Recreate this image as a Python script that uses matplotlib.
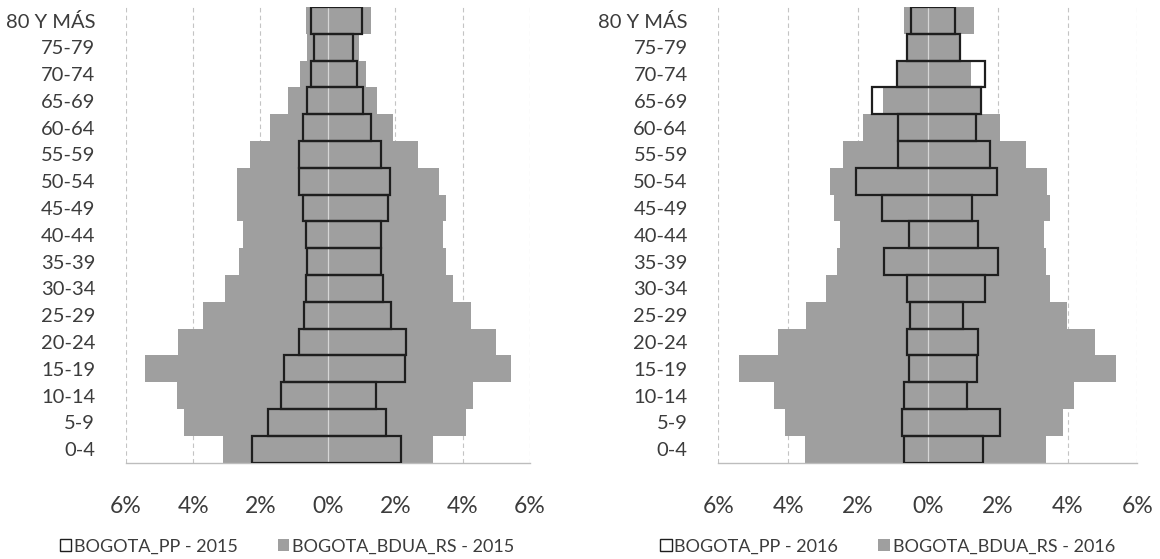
import matplotlib
matplotlib.use('Agg')
import matplotlib.pyplot as plt
from matplotlib.patches import Patch
import numpy as np

plt.rcParams['font.family'] = ['Lato', 'DejaVu Sans']

# ─── Data (percent of population) ───
ages = ['0-4', '5-9', '10-14', '15-19', '20-24', '25-29', '30-34', '35-39',
        '40-44', '45-49', '50-54', '55-59', '60-64', '65-69', '70-74',
        '75-79', '80 Y MÁS']

# 2015
bdua_2015_left = [3.12, 4.26, 4.48, 5.43, 4.46, 3.71, 3.05, 2.65, 2.52,
                  2.71, 2.71, 2.31, 1.73, 1.17, 0.83, 0.61, 0.64]
bdua_2015_right = [3.11, 4.11, 4.31, 5.44, 5.00, 4.24, 3.71, 3.52, 3.41,
                   3.52, 3.31, 2.67, 1.93, 1.45, 1.13, 0.92, 1.29]
pp_2015_left = [2.24, 1.78, 1.38, 1.29, 0.86, 0.70, 0.64, 0.61, 0.64,
                0.74, 0.87, 0.87, 0.75, 0.61, 0.51, 0.42, 0.49]
pp_2015_right = [2.18, 1.72, 1.44, 2.28, 2.33, 1.86, 1.65, 1.59, 1.59,
                 1.78, 1.84, 1.59, 1.29, 1.04, 0.85, 0.74, 1.00]

# 2016
bdua_2016_left = [3.52, 4.08, 4.40, 5.41, 4.28, 3.49, 2.91, 2.61, 2.51,
                  2.69, 2.80, 2.42, 1.87, 1.29, 0.89, 0.59, 0.68]
bdua_2016_right = [3.39, 3.87, 4.17, 5.38, 4.79, 3.98, 3.49, 3.39, 3.31,
                   3.49, 3.42, 2.80, 2.06, 1.51, 1.22, 0.93, 1.33]
pp_2016_left = [0.68, 0.73, 0.69, 0.55, 0.59, 0.52, 0.59, 1.26, 0.53,
                1.31, 2.07, 0.85, 0.85, 1.61, 0.89, 0.59, 0.48]
pp_2016_right = [1.57, 2.05, 1.11, 1.41, 1.44, 1.01, 1.63, 2.02, 1.42,
                 1.27, 1.97, 1.78, 1.39, 1.51, 1.64, 0.91, 0.78]

x_ticks = [-6, -4, -2, 0, 2, 4, 6]
x_tick_labels = ['6%', '4%', '2%', '0%', '2%', '4%', '6%']

# ─── Styles ───
gray_bar = '#9f9f9f'
outline = '#1e1e1e'
text_col = '#3c3c3c'
grid_col = '#c4c4c4'

fig = plt.figure(figsize=(11.6, 5.59), dpi=100)
fig.patch.set_facecolor('white')

ax1 = fig.add_axes([0.1084, 0.1725, 0.3485, 0.815])
ax2 = fig.add_axes([0.6193, 0.1725, 0.3613, 0.815])


def pyramid(ax, bl, br, pl, pr, year, legend_x):
    y = np.arange(len(ages))
    bl = np.array(bl)
    br = np.array(br)
    pl = np.array(pl)
    pr = np.array(pr)

    # grey BDUA bars, then the PP outline on top
    ax.barh(y, bl + br, left=-bl, height=1.0, color=gray_bar,
            edgecolor='none', zorder=2)
    ax.axvline(0, color='#d6d6d6', lw=0.9, zorder=2.5)
    ax.barh(y, pl + pr, left=-pl, height=1.0, fill=False,
            edgecolor=outline, linewidth=1.6, zorder=3)

    ax.set_xlim(-6, 6)
    ax.set_ylim(-0.5, len(ages) - 0.5)
    ax.set_yticks(y)
    ax.set_yticklabels(ages)
    ax.set_xticks(x_ticks)
    ax.set_xticklabels(x_tick_labels)

    ax.grid(axis='x', linestyle=(0, (4, 3)), color=grid_col, lw=0.8)
    ax.set_axisbelow(True)
    for side in ['top', 'left', 'right']:
        ax.spines[side].set_visible(False)
    ax.spines['bottom'].set_color('#bdbdbd')
    ax.spines['bottom'].set_linewidth(1.0)

    ax.tick_params(axis='x', length=0, pad=24, labelsize=16.5,
                   labelcolor=text_col)
    ax.tick_params(axis='y', length=0, pad=22, labelsize=14.5,
                   labelcolor=text_col)

    handles = [Patch(facecolor='white', edgecolor=outline, linewidth=1.0,
                     label=f'BOGOTA_PP - {year}'),
               Patch(facecolor=gray_bar, edgecolor='none',
                     label=f'BOGOTA_BDUA_RS - {year}')]
    fig.legend(handles=handles, loc='center',
               bbox_to_anchor=(legend_x, 0.022), ncol=2, frameon=False,
               fontsize=13, labelcolor=text_col, handlelength=0.65,
               handleheight=0.65, handletextpad=0.15, columnspacing=2.2)


pyramid(ax1, bdua_2015_left, bdua_2015_right, pp_2015_left, pp_2015_right,
        2015, 0.2474)
pyramid(ax2, bdua_2016_left, bdua_2016_right, pp_2016_left, pp_2016_right,
        2016, 0.765)

plt.savefig('out.png', dpi=100, facecolor='white')
plt.close()
